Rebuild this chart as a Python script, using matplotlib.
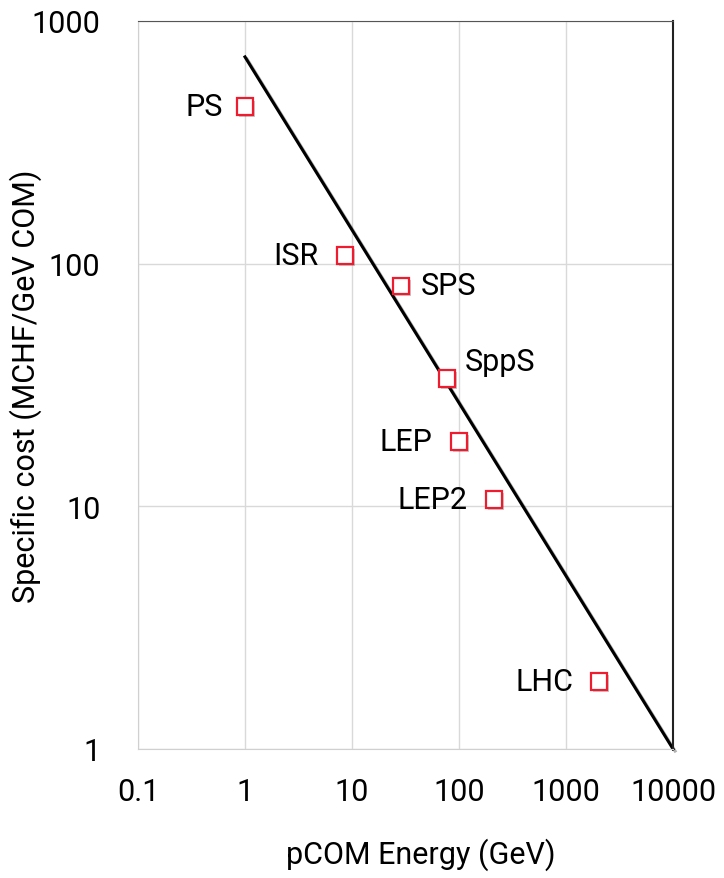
import numpy as np
import matplotlib.pyplot as plt
import matplotlib.patheffects as pe

# ── data ─────────────────────────────────────────────────────────────────────
names  = ["PS", "ISR", "SPS", "SppS", "LEP", "LEP2", "LHC"]
energy = [1.0, 8.6, 28.7, 77, 100, 212, 2030]          # pCOM energy (GeV)
cost   = [443, 108, 81, 33.6, 18.5, 10.7, 1.9]         # MCHF / GeV COM
# label offsets in points (dx, dy) relative to each marker
label_dx = [-16, -19, 14, 13, -19, -19, -18]
label_dy = [0, 0, 0, 12, 0, 0, 0]

fit_x = [1, 10000]
fit_y = [711, 1]

x_ticks = [0.1, 1, 10, 100, 1000, 10000]
x_tick_labels = ["0.1", "1", "10", "100", "1000", "10000"]
y_ticks = [1, 10, 100, 1000]
y_tick_labels = ["1", "10", "100", "1000"]

plt.rcParams['font.family'] = ['Roboto', 'DejaVu Sans']
FS = 22

fig = plt.figure(figsize=(7.24, 8.79), dpi=100)
ax = fig.add_axes([0.1906, 0.1468, 0.7390, 0.8282])

ax.set_xscale("log")
ax.set_yscale("log")
ax.set_xlim(0.1, 10000)
ax.set_ylim(1, 1000)

ax.grid(True, which="major", color="#d9d9d9", linewidth=1.0)
ax.set_axisbelow(True)
ax.minorticks_off()
ax.tick_params(length=0, labelsize=FS)
ax.tick_params(axis="x", pad=20)
ax.tick_params(axis="y", pad=27)
ax.set_xticks(x_ticks)
ax.set_xticklabels(x_tick_labels)
ax.set_yticks(y_ticks)
ax.set_yticklabels(y_tick_labels)

for side in ["left", "bottom"]:
    ax.spines[side].set_color("#d0d0d0")
ax.spines["top"].set_color("#555555")
ax.spines["right"].set_color("#222222")
ax.spines["right"].set_linewidth(1.5)

# trend line with a soft drop shadow
ax.plot(fit_x, fit_y, color="black", linewidth=2.2, clip_on=False,
        path_effects=[pe.SimpleLineShadow(offset=(1.5, -1.5), alpha=0.3),
                      pe.Normal()])

ax.plot(energy, cost, linestyle="none", marker="s", markersize=12,
        markerfacecolor="white", markeredgecolor="#ee1c2e", markeredgewidth=1.6,
        path_effects=[pe.SimplePatchShadow(offset=(1.5, -1.5), alpha=0.3),
                      pe.Normal()], zorder=4)

for n, x, y, dx, dy in zip(names, energy, cost, label_dx, label_dy):
    ax.annotate(n, (x, y), xytext=(dx, dy), textcoords="offset points",
                ha="right" if dx < 0 else "left", va="center", fontsize=FS)

ax.set_xlabel("pCOM Energy (GeV)", fontsize=FS, va="top")
ax.xaxis.set_label_coords(0.529, -0.122)
ax.set_ylabel("Specific cost (MCHF/GeV COM)", fontsize=FS)
ax.yaxis.set_label_coords(-0.18, 0.5)

fig.savefig("out.png", dpi=100)
